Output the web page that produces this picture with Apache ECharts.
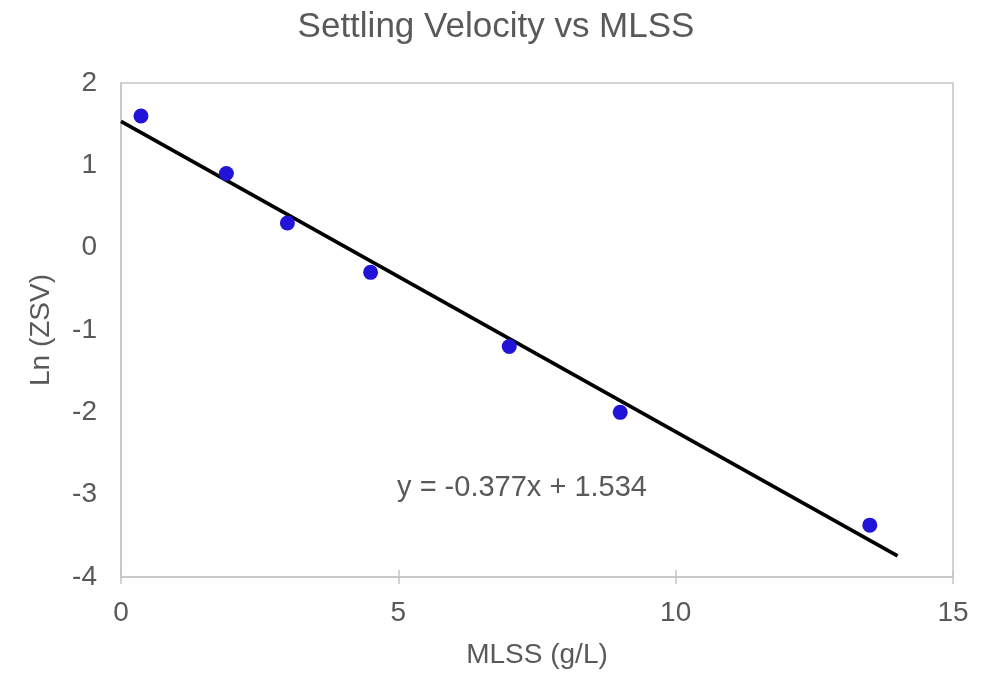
<!DOCTYPE html>
<html><head><meta charset="utf-8">
<script src="https://cdn.jsdelivr.net/npm/echarts@6/dist/echarts.min.js"></script>
<style>html,body{margin:0;padding:0;background:#fff}#c{width:992px;height:674px}</style>
</head><body><div id="c"></div>
<script>
const mlss = [0.36, 1.9, 3.0, 4.5, 7.0, 9.0, 13.5];
const lnZsv = [1.6, 0.9, 0.3, -0.3, -1.2, -2.0, -3.37];
const slope = -0.377;
const intercept = 1.534;
const trendX = [0, 14];
const eqText = 'y = -0.377x + 1.534';
const eqPos = [7.23, -2.92];

const font = '"Liberation Sans", Arial, sans-serif';
const txt = '#595959';
const frame = '#c6c6c6';
const chart = echarts.init(document.getElementById('c'));
chart.setOption({
  animation: false,
  title: { text: 'Settling Velocity vs MLSS', left: 'center', top: 5,
    textStyle: { fontFamily: font, fontSize: 35, fontWeight: 'normal', color: txt } },
  grid: { left: 121, right: 39, top: 83, bottom: 96, show: true, borderColor: frame, borderWidth: 1.5 },
  xAxis: [{ type: 'value', min: 0, max: 15, interval: 5,
    name: 'MLSS (g/L)', nameLocation: 'middle', nameGap: 64,
    nameTextStyle: { fontFamily: font, fontSize: 28, color: txt },
    axisLine: { onZero: false, lineStyle: { color: frame, width: 1.5 } },
    axisTick: { show: true, length: 7, lineStyle: { color: frame, width: 1.5 } },
    splitLine: { show: false },
    axisLabel: { fontFamily: font, fontSize: 28, color: txt, margin: 22 } },
    { type: 'value', min: 0, max: 15, interval: 5, position: 'bottom',
    axisLine: { show: false, onZero: false },
    axisTick: { show: true, inside: true, length: 7, lineStyle: { color: frame, width: 1.5 } },
    splitLine: { show: false }, axisLabel: { show: false } }],
  yAxis: { type: 'value', min: -4, max: 2, interval: 1,
    name: 'Ln (ZSV)', nameLocation: 'middle', nameGap: 66, nameRotate: 90,
    nameTextStyle: { fontFamily: font, fontSize: 28, color: txt },
    axisLine: { show: true, onZero: false, lineStyle: { color: frame, width: 1.5 } },
    axisTick: { show: false },
    splitLine: { show: false },
    axisLabel: { fontFamily: font, fontSize: 28, color: txt, margin: 24 } },
  series: [
    { type: 'line', data: trendX.map(x => [x, slope * x + intercept]), symbol: 'none',
      lineStyle: { color: '#000', width: 3.6 }, z: 2 },
    { type: 'scatter', data: mlss.map((x, i) => [x, lnZsv[i]]), symbolSize: 15,
      itemStyle: { color: '#2113D8', opacity: 1 }, z: 3 }
  ]
});
const p = chart.convertToPixel({ gridIndex: 0 }, eqPos);
chart.setOption({ graphic: [{ type: 'text', x: p[0], y: p[1],
  style: { text: eqText, fontFamily: font, fontSize: 29, fill: txt, align: 'center', verticalAlign: 'middle' } }] });
</script></body></html>
